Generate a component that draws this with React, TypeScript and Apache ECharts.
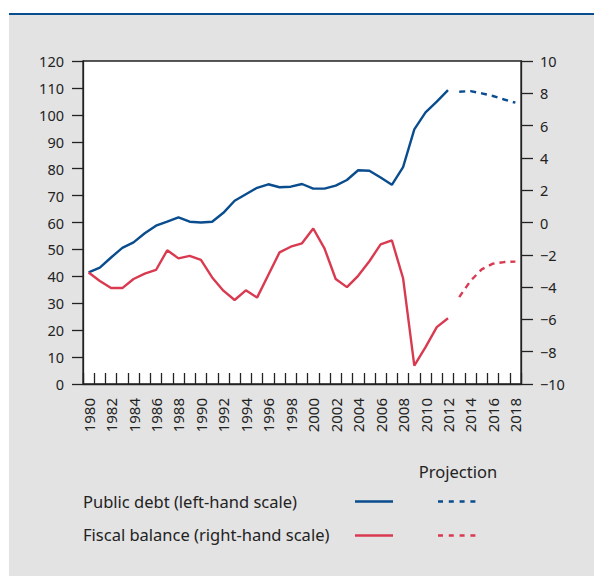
import React, { useEffect, useRef } from "react";
import * as echarts from "echarts";

const years: string[] = [];
for (let y = 1980; y <= 2018; y++) years.push(String(y));

const debtActual = [
  41.5, 43.2, 47, 50.6, 52.6, 56, 58.8, 60.3, 61.9, 60.3, 60, 60.3, 63.6, 68.1, 70.5,
  72.9, 74.2, 73.1, 73.3, 74.3, 72.6, 72.6, 73.7, 75.8, 79.4, 79.2, 76.7, 74, 80.6,
  94.6, 100.9, 104.9, 109.2,
];
const debtProjection = [108.6, 108.8, 108.0, 107.0, 105.7, 104.5];

const balanceActual = [
  -3.1, -3.62, -4.06, -4.06, -3.5, -3.17, -2.94, -1.72, -2.22, -2.07, -2.32, -3.4, -4.22,
  -4.8, -4.2, -4.65, -3.25, -1.85, -1.5, -1.29, -0.37, -1.6, -3.5, -4.0, -3.3, -2.4,
  -1.35, -1.1, -3.45, -8.86, -7.72, -6.48, -5.93,
];
const balanceProjection = [-4.62, -3.62, -2.9, -2.55, -2.45, -2.42];

const leftTicks = { min: 0, max: 120, interval: 10 };
const rightTicks = { min: -10, max: 10, interval: 2 };

const legendProjection = "Projection";
const legendDebt = "Public debt (left-hand scale)";
const legendBalance = "Fiscal balance (right-hand scale)";

const BLUE = "#0a4d8f";
const RED = "#d93a50";
const INK = "#222";
const FONT = "'Noto Sans', sans-serif";

function pad(actual: number[], proj: number[], isProj: boolean) {
  const out: (number | null)[] = [];
  for (let i = 0; i < years.length; i++) {
    if (!isProj) out.push(i < actual.length ? actual[i] : null);
    else out.push(i >= actual.length ? proj[i - actual.length] : null);
  }
  return out;
}

export default function App() {
  const ref = useRef<HTMLDivElement>(null);
  useEffect(() => {
    if (!ref.current) return;
    const chart = echarts.init(ref.current, null, { renderer: "svg" });
    const minus = (v: number) => String(v).replace("-", "\u2212");
    chart.setOption({
      animation: false,
      textStyle: { fontFamily: FONT },
      graphic: [
        { type: "rect", z: -10, shape: { x: 9, y: 14, width: 585, height: 562 }, style: { fill: "#e3e3e3" } },
        { type: "rect", z: -9, shape: { x: 9, y: 13, width: 585, height: 2 }, style: { fill: BLUE } },
        { type: "text", x: 458, y: 471, style: { text: legendProjection, font: `16.5px ${FONT}`, fill: INK, align: "center", verticalAlign: "middle" } },
        { type: "text", x: 83, y: 501, style: { text: legendDebt, font: `16.5px ${FONT}`, fill: INK, align: "left", verticalAlign: "middle" } },
        { type: "text", x: 83, y: 534.5, style: { text: legendBalance, font: `16.5px ${FONT}`, fill: INK, align: "left", verticalAlign: "middle" } },
        { type: "line", shape: { x1: 355, y1: 501.5, x2: 393, y2: 501.5 }, style: { stroke: BLUE, lineWidth: 2.5 } },
        { type: "line", shape: { x1: 438, y1: 501.5, x2: 476, y2: 501.5 }, style: { stroke: BLUE, lineWidth: 2.5, lineDash: [5, 5.8] } },
        { type: "line", shape: { x1: 355, y1: 535.5, x2: 393, y2: 535.5 }, style: { stroke: RED, lineWidth: 2.5 } },
        { type: "line", shape: { x1: 438, y1: 535.5, x2: 476, y2: 535.5 }, style: { stroke: RED, lineWidth: 2.5, lineDash: [5, 5.8] } },
      ],
      grid: {
        left: 83,
        right: 73,
        top: 61,
        bottom: 192,
        show: true,
        backgroundColor: "#fff",
        borderColor: INK,
        borderWidth: 1.3,
      },
      xAxis: {
        type: "category",
        data: years,
        boundaryGap: true,
        axisLine: { show: true, lineStyle: { color: INK, width: 1.3 } },
        axisTick: { show: true, inside: true, interval: 0, length: 11, lineStyle: { color: INK, width: 1.3 } },
        axisLabel: { interval: 1, rotate: 90, margin: 14, fontSize: 15, color: INK, fontFamily: FONT },
        splitLine: { show: false },
      },
      yAxis: [
        {
          type: "value",
          position: "left",
          ...leftTicks,
          axisLine: { show: true, lineStyle: { color: INK, width: 1.3 } },
          axisTick: { show: true, length: 11, lineStyle: { color: INK, width: 1.3 } },
          axisLabel: { margin: 19, fontSize: 14.5, color: INK, fontFamily: FONT },
          splitLine: { show: false },
        },
        {
          type: "value",
          position: "right",
          ...rightTicks,
          axisLine: { show: true, lineStyle: { color: INK, width: 1.3 } },
          axisTick: { show: true, length: 12, lineStyle: { color: INK, width: 1.3 } },
          axisLabel: { margin: 19, fontSize: 14.5, color: INK, fontFamily: FONT, formatter: minus },
          splitLine: { show: false },
        },
      ],
      series: [
        {
          type: "line", yAxisIndex: 0, data: pad(debtActual, debtProjection, false),
          showSymbol: false, symbol: "none", lineStyle: { color: BLUE, width: 2.4 }, z: 3,
        },
        {
          type: "line", yAxisIndex: 0, data: pad(debtActual, debtProjection, true),
          showSymbol: false, symbol: "none", lineStyle: { color: BLUE, width: 2.4, type: [6, 5] }, z: 3,
        },
        {
          type: "line", yAxisIndex: 1, data: pad(balanceActual, balanceProjection, false),
          showSymbol: false, symbol: "none", lineStyle: { color: RED, width: 2.4 }, z: 3,
        },
        {
          type: "line", yAxisIndex: 1, data: pad(balanceActual, balanceProjection, true),
          showSymbol: false, symbol: "none", lineStyle: { color: RED, width: 2.4, type: [6, 5] }, z: 3,
        },
      ],
    });
    return () => chart.dispose();
  }, []);
  return (
    <div
      ref={ref}
      style={{ position: "fixed", left: 0, top: 0, width: 594, height: 576, background: "#fff" }}
    />
  );
}
